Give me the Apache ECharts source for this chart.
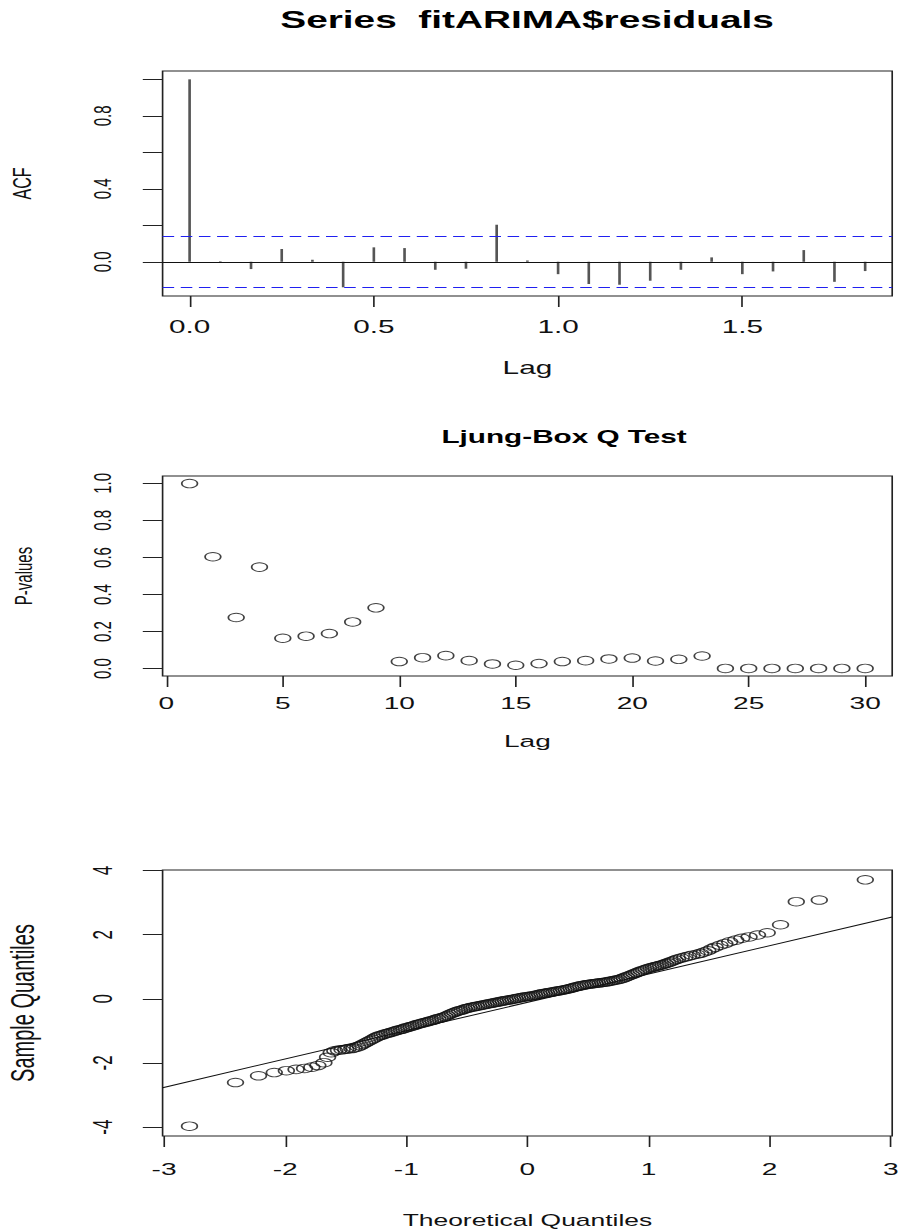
<!DOCTYPE html>
<html>
<head>
<meta charset="utf-8">
<script src="https://cdn.jsdelivr.net/npm/echarts@6/dist/echarts.min.js"></script>
<style>
  html, body { margin: 0; padding: 0; background: #fff; overflow: hidden; }
  /* the reference picture is stretched sideways, so the chart is drawn narrow and widened */
  #chart { width: 544px; height: 1232px; transform: scaleX(1.6507); transform-origin: 0 0; }
</style>
</head>
<body>
<div id="chart"></div>
<script>
// ACF of the residuals (lag in years, monthly data)
const acfLag = [0, 0.0833, 0.1667, 0.25, 0.3333, 0.4167, 0.5, 0.5833, 0.6667, 0.75, 0.8333, 0.9167,
  1.0, 1.0833, 1.1667, 1.25, 1.3333, 1.4167, 1.5, 1.5833, 1.6667, 1.75, 1.8333];
const acfValue = [1.0, 0.003, -0.04, 0.07, 0.011, -0.14, 0.079, 0.075, -0.044, -0.038, 0.203, 0.007,
  -0.068, -0.122, -0.126, -0.104, -0.044, 0.024, -0.068, -0.053, 0.064, -0.11, -0.051];
const ciBound = 0.142;
const acfXTicks = [0, 0.5, 1.0, 1.5];
const acfYTicks = [0, 0.2, 0.4, 0.6, 0.8, 1.0];
const acfYLabels = [0, 0.4, 0.8];

// Ljung-Box p-values
const ljungLag = [1, 2, 3, 4, 5, 6, 7, 8, 9, 10, 11, 12, 13, 14, 15, 16, 17, 18, 19, 20,
  21, 22, 23, 24, 25, 26, 27, 28, 29, 30];
const pValue = [0.999, 0.604, 0.276, 0.548, 0.164, 0.175, 0.189, 0.252, 0.328, 0.038,
  0.059, 0.070, 0.043, 0.025, 0.018, 0.027, 0.038, 0.043, 0.052, 0.057,
  0.041, 0.050, 0.068, 0.001, 0.001, 0.001, 0.001, 0.001, 0.001, 0.001];
const ljungXTicks = [0, 5, 10, 15, 20, 25, 30];
const ljungYTicks = [0, 0.2, 0.4, 0.6, 0.8, 1.0];

// normal Q-Q plot
const qqTheoretical = [-2.79, -2.41, -2.22, -2.09, -1.99, -1.91, -1.84, -1.78, -1.73, -1.68,
  -1.65, -1.62, -1.59, -1.56, -1.53, -1.50, -1.48, -1.45, -1.43, -1.40,
  -1.38, -1.36, -1.34, -1.32, -1.30, -1.28, -1.26, -1.24, -1.22, -1.20,
  -1.18, -1.16, -1.14, -1.12, -1.10, -1.08, -1.06, -1.04, -1.02, -1.00,
  -0.98, -0.96, -0.94, -0.92, -0.90, -0.88, -0.86, -0.84, -0.82, -0.80,
  -0.78, -0.76, -0.74, -0.72, -0.70, -0.68, -0.66, -0.64, -0.62, -0.60,
  -0.58, -0.56, -0.54, -0.52, -0.50, -0.48, -0.46, -0.44, -0.42, -0.40,
  -0.38, -0.36, -0.34, -0.32, -0.30, -0.28, -0.26, -0.24, -0.22, -0.20,
  -0.18, -0.16, -0.14, -0.12, -0.10, -0.08, -0.06, -0.04, -0.02, 0.00,
  0.02, 0.04, 0.06, 0.08, 0.10, 0.12, 0.14, 0.16, 0.18, 0.20,
  0.22, 0.24, 0.26, 0.28, 0.30, 0.32, 0.34, 0.36, 0.38, 0.40,
  0.42, 0.44, 0.46, 0.48, 0.50, 0.52, 0.54, 0.56, 0.58, 0.60,
  0.62, 0.64, 0.66, 0.68, 0.70, 0.72, 0.74, 0.76, 0.78, 0.80,
  0.82, 0.84, 0.86, 0.88, 0.90, 0.92, 0.94, 0.96, 0.98, 1.00,
  1.02, 1.04, 1.06, 1.08, 1.10, 1.12, 1.14, 1.16, 1.18, 1.20,
  1.22, 1.24, 1.27, 1.30, 1.33, 1.36, 1.40, 1.43, 1.46, 1.49,
  1.52, 1.55, 1.59, 1.63, 1.67, 1.72, 1.77, 1.83, 1.90, 1.98,
  2.09, 2.22, 2.41, 2.79];
const qqSample = [-3.97, -2.61, -2.40, -2.30, -2.24, -2.20, -2.17, -2.13, -2.08, -1.99,
  -1.82, -1.68, -1.62, -1.60, -1.59, -1.57, -1.56, -1.55, -1.53, -1.50,
  -1.46, -1.42, -1.38, -1.34, -1.30, -1.26, -1.22, -1.18, -1.15, -1.13,
  -1.10, -1.08, -1.06, -1.04, -1.01, -0.99, -0.97, -0.95, -0.93, -0.90,
  -0.88, -0.86, -0.84, -0.81, -0.79, -0.77, -0.75, -0.73, -0.71, -0.69,
  -0.67, -0.64, -0.62, -0.60, -0.58, -0.55, -0.52, -0.48, -0.45, -0.42,
  -0.39, -0.37, -0.35, -0.32, -0.30, -0.28, -0.26, -0.25, -0.23, -0.22,
  -0.20, -0.19, -0.17, -0.16, -0.14, -0.13, -0.11, -0.10, -0.08, -0.07,
  -0.05, -0.04, -0.03, -0.01, 0.00, 0.02, 0.03, 0.05, 0.06, 0.07,
  0.08, 0.09, 0.11, 0.12, 0.14, 0.16, 0.17, 0.18, 0.20, 0.21,
  0.22, 0.24, 0.25, 0.26, 0.28, 0.29, 0.31, 0.33, 0.35, 0.37,
  0.39, 0.41, 0.42, 0.44, 0.45, 0.46, 0.47, 0.48, 0.49, 0.50,
  0.51, 0.52, 0.53, 0.55, 0.56, 0.58, 0.59, 0.61, 0.63, 0.66,
  0.69, 0.72, 0.75, 0.78, 0.81, 0.84, 0.87, 0.90, 0.92, 0.95,
  0.97, 0.99, 1.01, 1.03, 1.05, 1.07, 1.10, 1.12, 1.15, 1.18,
  1.21, 1.24, 1.27, 1.30, 1.33, 1.36, 1.39, 1.42, 1.46, 1.50,
  1.56, 1.61, 1.67, 1.72, 1.78, 1.83, 1.89, 1.93, 1.99, 2.06,
  2.31, 3.03, 3.08, 3.71];
const qqLineX = [-3.012, 3.012];
const qqLineY = [-2.77, 2.55];
const qqXTicks = [-3, -2, -1, 0, 1, 2, 3];
const qqYTicks = [-4, -2, 0, 2, 4];

const FONT = "'Liberation Sans', Arial, Helvetica, sans-serif";
const INK = '#111';
const CI_BLUE = '#2020f0';

let chart = echarts.init(document.getElementById('chart'), null, {renderer: 'svg'});

function gridBox(top, height) {
  return {left: 98.5, width: 442, top: top, height: height, show: true,
    borderColor: '#222', borderWidth: 1, backgroundColor: 'transparent',
    containLabel: false, outerBoundsMode: 'none'};
}

function xAxisOf(idx, min, max, ticks, fmt, margin, fontSize, name, nameGap, nameSize) {
  return {
    gridIndex: idx, type: 'value', min: min, max: max, position: 'bottom',
    axisLine: {show: false, onZero: false}, splitLine: {show: false},
    axisTick: {show: true, length: 11, customValues: ticks, lineStyle: {color: '#222', width: 1}},
    axisLabel: {customValues: ticks, formatter: fmt, margin: margin, fontSize: fontSize,
      color: INK, fontFamily: FONT},
    name: name, nameLocation: 'middle', nameGap: nameGap,
    nameTextStyle: {fontSize: nameSize, color: INK, fontFamily: FONT}
  };
}

function yAxisOf(idx, min, max, ticks, labels, fmt, margin, fontSize, name, nameGap, nameSize) {
  return {
    gridIndex: idx, type: 'value', min: min, max: max, position: 'left',
    axisLine: {show: false, onZero: false}, splitLine: {show: false},
    axisTick: {show: true, length: 12, customValues: ticks, lineStyle: {color: '#222', width: 1}},
    axisLabel: {customValues: labels, formatter: fmt, rotate: 90, margin: margin,
      fontSize: fontSize, color: INK, fontFamily: FONT},
    name: name, nameLocation: 'middle', nameGap: nameGap,
    nameTextStyle: {fontSize: nameSize, color: INK, fontFamily: FONT}
  };
}

const oneDec = v => v.toFixed(1);
const plain = v => String(v);

let option = {
  animation: false,
  backgroundColor: '#fff',
  title: [
    {text: 'Series  fitARIMA$residuals', left: 319.3, top: 8, textAlign: 'center', padding: 0,
      textStyle: {fontSize: 23.5, fontWeight: 'bold', color: '#000', fontFamily: FONT}},
    {text: 'Ljung-Box Q Test', left: 341.7, top: 428, textAlign: 'center', padding: 0,
      textStyle: {fontSize: 18, fontWeight: 'bold', color: '#000', fontFamily: FONT}}
  ],
  grid: [gridBox(71, 225), gridBox(476, 200), gridBox(870, 266)],
  xAxis: [
    xAxisOf(0, -0.0733, 1.9067, acfXTicks, oneDec, 22, 18, 'Lag', 63, 18),
    xAxisOf(1, -0.16, 31.16, ljungXTicks, plain, 19, 17, 'Lag', 57, 17),
    xAxisOf(2, -3.012, 3.012, qqXTicks, plain, 25, 17, 'Theoretical Quantiles', 77, 16)
  ],
  yAxis: [
    yAxisOf(0, -0.1877, 1.0457, acfYTicks, acfYLabels, oneDec, 29, 15, 'ACF', 77, 16),
    yAxisOf(1, -0.04, 1.04, ljungYTicks, ljungYTicks, oneDec, 29, 15, 'P-values', 77, 15),
    yAxisOf(2, -4.277, 4.017, qqYTicks, qqYTicks, plain, 28, 17, 'Sample Quantiles', 75, 20)
  ],
  series: [
    {
      type: 'bar', xAxisIndex: 0, yAxisIndex: 0, barWidth: 1.6,
      data: acfLag.map((l, i) => [l, acfValue[i]]),
      itemStyle: {color: '#555'},
      markLine: {
        silent: true, symbol: ['none', 'none'], label: {show: false}, animation: false,
        lineStyle: {color: INK, width: 1, type: 'solid'},
        data: [{yAxis: 0}]
      }
    },
    {
      // confidence band of the ACF, drawn as two dashed horizontal lines
      type: 'line', xAxisIndex: 0, yAxisIndex: 0, data: [], symbol: 'none',
      markLine: {
        silent: true, symbol: ['none', 'none'], label: {show: false}, animation: false,
        lineStyle: {color: CI_BLUE, width: 1, type: [7, 4]},
        data: [{yAxis: ciBound}, {yAxis: -ciBound}]
      }
    },
    {
      type: 'scatter', xAxisIndex: 1, yAxisIndex: 1,
      data: ljungLag.map((l, i) => [l, pValue[i]]),
      symbol: 'circle', symbolSize: [9.5, 8.5],
      itemStyle: {color: 'rgba(0,0,0,0)', borderColor: INK, borderWidth: 1}
    },
    {
      type: 'scatter', xAxisIndex: 2, yAxisIndex: 2,
      data: qqTheoretical.map((q, i) => [q, qqSample[i]]),
      symbol: 'circle', symbolSize: [9.5, 8.5],
      itemStyle: {color: 'rgba(0,0,0,0)', borderColor: INK, borderWidth: 1}
    },
    {
      type: 'line', xAxisIndex: 2, yAxisIndex: 2, symbol: 'none',
      data: qqLineX.map((x, i) => [x, qqLineY[i]]),
      lineStyle: {color: INK, width: 1}
    }
  ]
};

chart.setOption(option);
</script>
</body>
</html>
